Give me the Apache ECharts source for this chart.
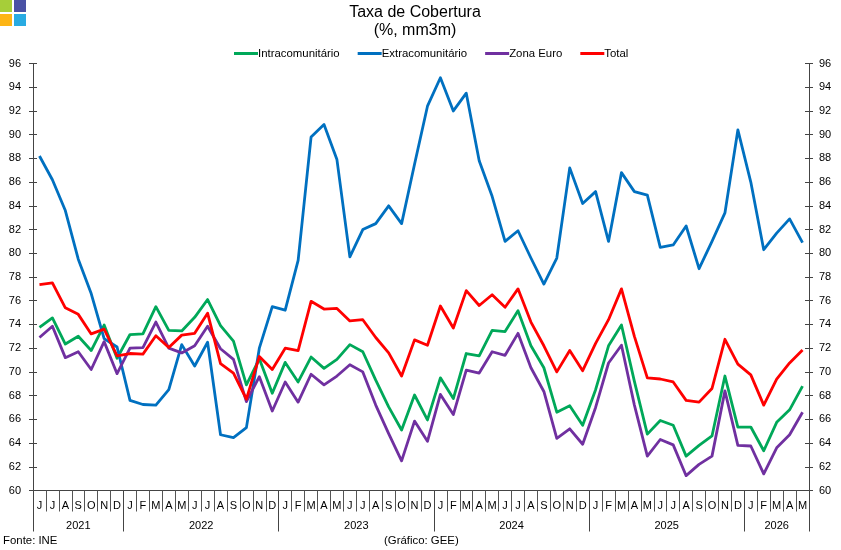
<!DOCTYPE html>
<html>
<head>
<meta charset="utf-8">
<title>Taxa de Cobertura</title>
<style>html,body{margin:0;padding:0;background:#fff}#chart{width:841px;height:550px}</style>
<script src="https://cdn.jsdelivr.net/npm/echarts@6/dist/echarts.min.js"></script>
</head>
<body>
<div id="chart"></div>
<script>
const months = ['J','J','A','S','O','N','D',
  'J','F','M','A','M','J','J','A','S','O','N','D',
  'J','F','M','A','M','J','J','A','S','O','N','D',
  'J','F','M','A','M','J','J','A','S','O','N','D',
  'J','F','M','A','M','J','J','A','S','O','N','D',
  'J','F','M','A','M'];
const years = ['2021','2022','2023','2024','2025','2026'];
const yearBoundaries = [0,7,19,31,43,55,60];
const yearCentres = [3.5,13,25,37,49,57.5];

const intra = [73.75,74.55,72.35,73,71.8,73.95,71.15,
  73.15,73.2,75.5,73.5,73.45,74.6,76.1,73.9,72.6,68.9,71.1,68.2,
  70.8,69.15,71.25,70.3,71.05,72.3,71.7,69.3,67.05,65.1,68.05,65.95,
  69.5,67.75,71.55,71.35,73.5,73.4,75.15,72.2,70.35,66.6,67.15,65.5,
  68.5,72.2,73.95,69.2,64.75,65.9,65.5,62.9,63.8,64.6,69.65,65.35,
  65.35,63.35,65.75,66.8,68.8];
const extra = [88.2,86.2,83.6,79.5,76.6,72.8,72.1,
  67.6,67.25,67.2,68.5,72.3,70.5,72.5,64.7,64.45,65.3,72,75.5,
  75.2,79.4,89.8,90.85,87.9,79.7,82,82.5,84,82.5,87.5,92.4,
  94.8,92,93.5,87.8,84.8,81,81.9,79.6,77.4,79.6,87.2,84.2,
  85.2,81,86.8,85.2,84.9,80.5,80.7,82.3,78.7,81,83.4,90.4,
  86,80.3,81.7,82.9,80.9];
const zonaEuro = [72.9,73.85,71.2,71.7,70.2,72.55,69.85,
  72,72.05,74.2,72,71.6,72.2,73.85,71.95,71.05,67.5,69.6,66.7,
  69.15,67.45,69.8,68.9,69.65,70.6,70,67.2,64.8,62.5,65.85,64.15,
  68.1,66.4,70.15,69.9,71.7,71.4,73.25,70.35,68.35,64.4,65.2,63.9,
  67,70.75,72.25,67.2,62.9,64.3,63.85,61.25,62.2,62.9,68.4,63.8,
  63.75,61.4,63.6,64.7,66.6];
const total = [77.35,77.5,75.4,74.85,73.2,73.6,71.35,
  71.55,71.5,73.05,72.05,73.1,73.25,74.95,70.7,69.9,67.7,71.3,70.2,
  72,71.8,75.95,75.3,75.35,74.3,74.4,72.9,71.6,69.65,72.7,72.25,
  75.55,73.7,76.85,75.6,76.5,75.45,77,74.2,72.2,70,71.8,70.1,
  72.4,74.4,77,73,69.5,69.4,69.15,67.6,67.45,68.6,72.75,70.65,
  69.75,67.2,69.4,70.75,71.85];

const FONT = '"Liberation Sans", Arial, sans-serif';
const AXIS = '#444';

// Each side gets two y axes so the ticks cross the axis line
function valueAxis(position, inside, labelMargin) {
  return {
    type: 'value', position, min: 60, max: 96, interval: 2,
    axisLine: { show: true, onZero: false, lineStyle: { color: AXIS, width: 1 } },
    axisTick: { show: true, inside, length: 4, lineStyle: { color: AXIS, width: 1 } },
    axisLabel: { show: !inside, margin: labelMargin, color: '#000', fontFamily: FONT, fontSize: 11 },
    splitLine: { show: false }
  };
}

function line(name, data, color) {
  return {
    name, data, type: 'line', xAxisIndex: 0, yAxisIndex: 0,
    showSymbol: false, symbol: 'none', smooth: false, silent: true,
    lineStyle: { color, width: 2.8, join: 'round' },
    itemStyle: { color }
  };
}

// Four-square emblem in the top-left corner
const emblem = [
  [0, 0, '#A6CE39'], [14, 0, '#4A52A5'],
  [0, 14, '#FDB515'], [14, 14, '#29ABE2']
].map(([x, y, fill]) => ({
  type: 'rect', shape: { x, y, width: 12, height: 12 }, style: { fill }, silent: true
}));

const chart = echarts.init(document.getElementById('chart'), null, { renderer: 'canvas' });
chart.setOption({
  animation: false,
  backgroundColor: '#fff',
  title: [
    { text: 'Taxa de Cobertura\n(%, mm3m)', left: 415, top: 4, padding: 0, textAlign: 'center',
      textStyle: { fontFamily: FONT, fontWeight: 'normal', fontSize: 16, color: '#000', lineHeight: 18, align: 'center' } },
    { text: 'Fonte: INE', left: 3, top: 535, padding: 0,
      textStyle: { fontFamily: FONT, fontWeight: 'normal', fontSize: 11.4, color: '#000' } },
    { text: '(Gráfico: GEE)', left: 384, top: 535, padding: 0,
      textStyle: { fontFamily: FONT, fontWeight: 'normal', fontSize: 11.4, color: '#000' } }
  ],
  legend: {
    left: 234, top: 48, itemWidth: 24, itemHeight: 3, itemGap: 18, icon: 'rect',
    padding: 0, selectedMode: false,
    textStyle: { fontFamily: FONT, fontSize: 11.4, color: '#000', padding: [0, 0, 0, -5] },
    data: ['Intracomunitário', 'Extracomunitário', 'Zona Euro', 'Total']
  },
  grid: { left: 33, top: 63.5, width: 776, height: 427, containLabel: false },
  xAxis: [
    {
      type: 'category', data: months, position: 'bottom', boundaryGap: true,
      axisLine: { show: true, onZero: false, lineStyle: { color: AXIS, width: 1 } },
      axisTick: { show: true, length: 21, interval: 0, lineStyle: { color: '#555', width: 1 } },
      axisLabel: { interval: 0, margin: 10, color: '#000', fontFamily: FONT, fontSize: 11, hideOverlap: false },
      splitLine: { show: false }
    },
    {
      // Year band below the months: separators at year starts, labels at mid-year
      type: 'value', position: 'bottom', min: 0, max: 60,
      axisLine: { show: false, onZero: false },
      axisTick: { show: true, length: 41, customValues: yearBoundaries, lineStyle: { color: AXIS, width: 1 } },
      axisLabel: {
        show: true, margin: 30, color: '#000', fontFamily: FONT, fontSize: 11,
        customValues: yearCentres, hideOverlap: false, showMinLabel: true, showMaxLabel: true,
        formatter: v => years[yearCentres.indexOf(v)]
      },
      splitLine: { show: false }
    }
  ],
  yAxis: [
    valueAxis('left', false, 12),
    valueAxis('left', true, 0),
    valueAxis('right', false, 10),
    valueAxis('right', true, 0)
  ],
  series: [
    line('Intracomunitário', intra, '#00A859'),
    line('Extracomunitário', extra, '#0070C0'),
    line('Zona Euro', zonaEuro, '#7030A0'),
    line('Total', total, '#FF0000')
  ],
  graphic: emblem
});
</script>
</body>
</html>
